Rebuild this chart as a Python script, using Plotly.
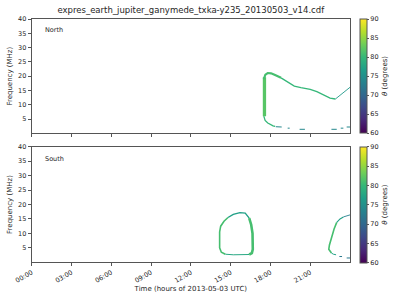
import plotly.graph_objects as go
from plotly.colors import sample_colorscale

# ---------------- data (hours UTC, frequency MHz, theta degrees) ----------------
title_text = "expres_earth_jupiter_ganymede_txka-y235_20130503_v14.cdf"
tick_hours = [0, 3, 6, 9, 12, 15, 18, 21]
tick_labels = ["00:00", "03:00", "06:00", "09:00", "12:00", "15:00", "18:00", "21:00"]
freq_ticks = [5, 10, 15, 20, 25, 30, 35, 40]
theta_ticks = [60, 65, 70, 75, 80, 85, 90]

# North hemisphere
north_band_t = [17.55, 17.55]
north_band_f = [6.0, 19.6]
north_band_theta = 82

north_peak_t = [17.5, 17.62, 17.8, 18.05, 18.35, 18.8]
north_peak_f = [19.0, 20.5, 21.1, 21.0, 20.4, 19.4]
north_peak_theta = 81

north_arc_t = [18.8, 19.3, 19.8, 20.3, 21.0, 21.5, 22.0, 22.5, 22.9]
north_arc_f = [19.4, 17.8, 16.5, 16.0, 15.4, 14.6, 13.5, 12.3, 12.0]
north_arc_theta = 80

north_rise_t = [22.9, 23.4, 24.0]
north_rise_f = [12.0, 13.8, 16.1]
north_rise_theta = 76

north_low_t = [17.5, 17.6, 17.8, 18.0, 18.2, 18.35]
north_low_f = [6.0, 4.5, 3.6, 3.0, 2.6, 2.4]
north_low_theta = 80

north_dash_t = [18.4, 18.85, None, 19.3, 19.45, None, 20.2, 20.6, None,
                22.6, 23.0, None, 23.3, 23.5, None, 23.75, 24.0]
north_dash_f = [2.3, 2.2, None, 1.8, 1.8, None, 1.4, 1.4, None,
                1.4, 1.4, None, 1.8, 1.8, None, 2.2, 2.2]
north_dash_theta = 74

# South hemisphere
south_left_t = [14.6, 14.3, 14.17, 14.17, 14.25, 14.5, 14.8]
south_left_f = [2.8, 3.5, 5.0, 10.5, 12.5, 14.2, 15.5]
south_left_theta = 81

south_top_t = [14.8, 15.2, 15.7, 16.1, 16.4]
south_top_f = [15.5, 16.6, 17.2, 17.0, 15.3]
south_top_theta = 77

south_right_t = [16.4, 16.55, 16.65, 16.67, 16.6, 16.4]
south_right_f = [15.3, 13.0, 10.0, 4.5, 3.2, 2.7]
south_right_theta = 81

south_bottom_t = [16.4, 15.8, 15.2, 14.6]
south_bottom_f = [2.7, 2.6, 2.6, 2.8]
south_bottom_theta = 78

south2_left_t = [22.6, 22.4, 22.45, 22.6, 22.8, 23.0]
south2_left_f = [3.2, 4.5, 6.0, 8.5, 11.5, 13.8]
south2_left_theta = 81

south2_top_t = [23.0, 23.25, 23.5]
south2_top_f = [13.8, 15.0, 15.7]
south2_top_theta = 77

south2_end_t = [23.5, 23.75, 24.0]
south2_end_f = [15.7, 16.0, 16.4]
south2_end_theta = 73

south2_low_t = [22.6, 22.75, 22.95]
south2_low_f = [3.2, 2.8, 2.6]
south2_low_theta = 77

south2_dash_t = [23.2, 23.4, None, 23.75, 24.0]
south2_dash_f = [2.0, 2.0, None, 1.5, 1.5]
south2_dash_theta = 72

THETA_MIN, THETA_MAX = 60, 90


def col(theta):
    return sample_colorscale("Viridis", [(theta - THETA_MIN) / (THETA_MAX - THETA_MIN)])[0]


fig = go.Figure()

north_segments = [
    (north_band_t, north_band_f, north_band_theta, 3.3),
    (north_peak_t, north_peak_f, north_peak_theta, 2.2),
    (north_arc_t, north_arc_f, north_arc_theta, 1.3),
    (north_rise_t, north_rise_f, north_rise_theta, 0.9),
    (north_low_t, north_low_f, north_low_theta, 1.3),
    (north_dash_t, north_dash_f, north_dash_theta, 1.0),
]
south_segments = [
    (south_left_t, south_left_f, south_left_theta, 1.6),
    (south_top_t, south_top_f, south_top_theta, 1.4),
    (south_right_t, south_right_f, south_right_theta, 2.6),
    (south_bottom_t, south_bottom_f, south_bottom_theta, 1.0),
    (south2_left_t, south2_left_f, south2_left_theta, 1.6),
    (south2_top_t, south2_top_f, south2_top_theta, 1.1),
    (south2_end_t, south2_end_f, south2_end_theta, 0.9),
    (south2_low_t, south2_low_f, south2_low_theta, 1.0),
    (south2_dash_t, south2_dash_f, south2_dash_theta, 1.0),
]

for t, f, th, w in north_segments:
    fig.add_trace(go.Scatter(x=t, y=f, mode="lines", xaxis="x", yaxis="y",
                             line=dict(color=col(th), width=w), showlegend=False,
                             hoverinfo="skip"))
for t, f, th, w in south_segments:
    fig.add_trace(go.Scatter(x=t, y=f, mode="lines", xaxis="x2", yaxis="y2",
                             line=dict(color=col(th), width=w), showlegend=False,
                             hoverinfo="skip"))

# dummy traces for colorbars
fig.add_trace(go.Scatter(x=[None], y=[None], mode="markers", xaxis="x", yaxis="y",
                         marker=dict(color=[THETA_MIN], coloraxis="coloraxis"), showlegend=False))
fig.add_trace(go.Scatter(x=[None], y=[None], mode="markers", xaxis="x2", yaxis="y2",
                         marker=dict(color=[THETA_MIN], coloraxis="coloraxis2"), showlegend=False))

FONT = "DejaVu Sans"
TXT = "#262626"
LINE = "#555555"

def cbar(y_top, length):
    return dict(
        thickness=7, len=length, lenmode="fraction", y=y_top, yanchor="top",
        x=360 / 400, xanchor="left", xpad=0, ypad=0,
        outlinewidth=1, outlinecolor=LINE,
        tickvals=theta_ticks, ticks="outside", ticklen=2, tickcolor=LINE,
        tickfont=dict(size=6.5, color=TXT, family=FONT),
        title=dict(text="<i>θ</i> (degrees)", side="right",
                   font=dict(size=7, color=TXT, family=FONT)),
    )

xd = [31.7 / 400, 350 / 400]
ax_common = dict(showline=True, mirror=True, linecolor=LINE, linewidth=1,
                 ticks="outside", ticklen=3, tickcolor=LINE, showgrid=False,
                 zeroline=False, automargin=False,
                 tickfont=dict(size=6.5, color=TXT, family=FONT))

fig.update_layout(
    width=400, height=300,
    margin=dict(l=0, r=0, t=0, b=0),
    paper_bgcolor="white", plot_bgcolor="white",
    font=dict(family=FONT, color=TXT),
    xaxis=dict(domain=xd, range=[0, 24], tickvals=tick_hours, showticklabels=False,
               anchor="y", **ax_common),
    yaxis=dict(domain=[1 - 133.3 / 300, 1 - 19 / 300], range=[0, 40], tickvals=freq_ticks,
               anchor="x",
               title=dict(text="Frequency (MHz)", font=dict(size=7, color=TXT, family=FONT),
                          standoff=4),
               **ax_common),
    xaxis2=dict(domain=xd, range=[0, 24], tickvals=tick_hours, ticktext=tick_labels,
                tickangle=-30, anchor="y2",
                title=dict(text="Time (hours of 2013-05-03 UTC)",
                           font=dict(size=7, color=TXT, family=FONT), standoff=2),
                **ax_common),
    yaxis2=dict(domain=[1 - 262.3 / 300, 1 - 146.7 / 300], range=[0, 40], tickvals=freq_ticks,
                anchor="x2",
                title=dict(text="Frequency (MHz)", font=dict(size=7, color=TXT, family=FONT),
                           standoff=4),
                **ax_common),
    coloraxis=dict(colorscale="Viridis", cmin=THETA_MIN, cmax=THETA_MAX,
                   colorbar=cbar(1 - 19 / 300, (133.3 - 19) / 300)),
    coloraxis2=dict(colorscale="Viridis", cmin=THETA_MIN, cmax=THETA_MAX,
                    colorbar=cbar(1 - 146.7 / 300, (262.3 - 146.7) / 300)),
    title=dict(text=title_text, x=190.8 / 400, xanchor="center", y=1 - 10 / 300,
               yanchor="middle", font=dict(size=8.5, color=TXT, family=FONT)),
    annotations=[
        dict(text="North", xref="paper", yref="paper", x=43 / 400, y=1 - 30 / 300,
             xanchor="left", yanchor="middle", showarrow=False,
             font=dict(size=6.5, color=TXT, family=FONT)),
        dict(text="South", xref="paper", yref="paper", x=43 / 400, y=1 - 158.5 / 300,
             xanchor="left", yanchor="middle", showarrow=False,
             font=dict(size=6.5, color=TXT, family=FONT)),
    ],
)

fig.write_html("out.html")
